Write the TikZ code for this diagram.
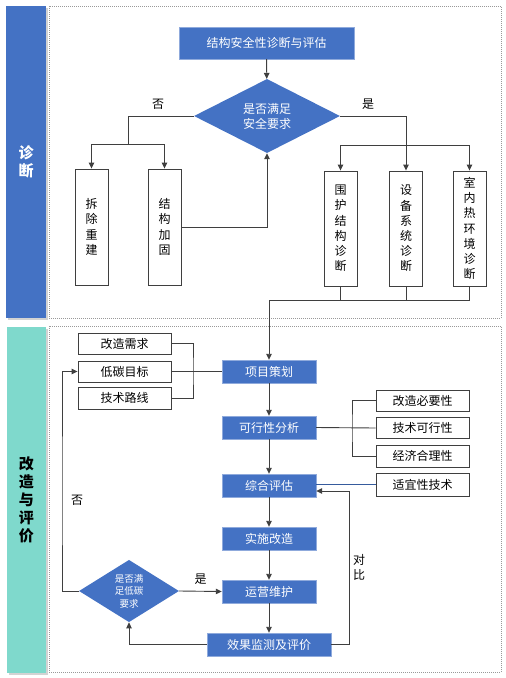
\documentclass[tikz,border=0pt]{standalone}
\usepackage{fontspec}
\setmainfont{Noto Sans CJK SC}
\usetikzlibrary{shapes.geometric,arrows.meta,shadows}
\definecolor{zdblue}{HTML}{4472C4}
\definecolor{zdedge}{HTML}{8FAADC}
\definecolor{gzteal}{HTML}{7FD9CC}
\definecolor{lnclr}{HTML}{3F3F3F}
\tikzset{
    bluebox/.style={draw=zdedge, fill=zdblue, text=white, minimum width=94pt, minimum height=23pt, inner sep=0pt, font=\fontsize{12}{14}\selectfont},
    whitebox/.style={draw=lnclr, line width=0.9pt, fill=white, minimum width=93pt, minimum height=21pt, inner sep=0pt, font=\fontsize{12}{14}\selectfont},
    tallbox/.style={draw=lnclr, line width=0.9pt, fill=white, minimum width=33pt, minimum height=116pt, inner sep=0pt, align=center, font=\fontsize{12}{15.2}\selectfont},
    bluediamond/.style={diamond, fill=zdblue, text=white, inner sep=0pt, align=center},
    band/.style={inner sep=0pt, align=center, drop shadow={opacity=0.35, shadow xshift=1.5pt, shadow yshift=-1.5pt}},
    panel/.style={draw=gray!80, dash pattern=on 1pt off 1pt, line width=0.6pt},
    lbl/.style={inner sep=0pt, align=center, font=\fontsize{12}{15}\selectfont},
    line/.style={draw=lnclr, line width=0.9pt},
    arr/.style={line, -{Triangle[length=6pt, width=5.5pt]}},
}
\begin{document}
\begin{tikzpicture}[x=1pt, y=-1pt]
    \useasboundingbox (0,0) rectangle (506,678);

    % bands and panels
    \node[band, fill=zdblue, text=white, minimum width=40pt, minimum height=312pt, font=\fontsize{15}{18}\selectfont\bfseries] (zd) at (26,162) {诊\\断};
    \node[band, fill=gzteal, text=black, minimum width=39pt, minimum height=346pt, font=\fontsize{15}{18}\selectfont\bfseries] (gz) at (26.5,500) {改\\造\\与\\评\\价};
    \draw[panel] (49,6) rectangle (501,318);
    \draw[panel] (49,326) rectangle (501,672);

    % diagnosis
    \node[bluebox, minimum width=175pt, minimum height=32pt] (jgaq) at (266.5,43) {结构安全性诊断与评估};
    \node[bluediamond, minimum width=146pt, minimum height=62pt, font=\fontsize{12}{15}\selectfont] (aqyq) at (267,116) {是否满足\\安全要求};
    \node[tallbox] (ccjz) at (91.5,227) {拆\\除\\重\\建};
    \node[tallbox] (jgjg) at (164.5,227) {结\\构\\加\\固};
    \node[tallbox, minimum height=115pt] (whjg) at (340.5,228.5) {围\\护\\结\\构\\诊\\断};
    \node[tallbox, minimum height=115pt] (sbxt) at (406,228.5) {设\\备\\系\\统\\诊\\断};
    \node[tallbox, minimum height=115pt] (snhj) at (469.5,228.5) {室\\内\\热\\环\\境\\诊\\断};
    \node[lbl] (fou1) at (158,104) {否};
    \node[lbl] (shi1) at (368,104) {是};

    \coordinate (lsplit) at (128,144);
    \coordinate (rsplit) at (340.5,145);
    \coordinate (merge) at (269,300);

    \draw[arr] (jgaq) -- (aqyq);
    \draw[line] (aqyq.west) -| (lsplit);
    \draw[arr] (lsplit) -| (ccjz.north);
    \draw[arr] (lsplit) -| (jgjg.north);
    \draw[arr] (jgjg.east) -| (aqyq.south);
    \draw[arr] (aqyq.east) -| (sbxt.north);
    \draw[arr] (rsplit) -- (whjg.north);
    \draw[arr] (rsplit) -| (snhj.north);
    \draw[line] (whjg.south) |- (merge);
    \draw[line] (sbxt.south) -- (sbxt.south |- merge);
    \draw[line] (snhj.south) |- (merge);

    % retrofit and evaluation
    \node[bluebox] (xmch) at (269,371.5) {项目策划};
    \node[bluebox] (kxfx) at (269,427.5) {可行性分析};
    \node[bluebox] (zhpg) at (269,485.5) {综合评估};
    \node[bluebox] (ssgz) at (269,538.5) {实施改造};
    \node[bluebox] (yywh) at (269,591.5) {运营维护};
    \node[bluebox, minimum width=124pt] (xgjc) at (269,644.5) {效果监测及评价};
    \node[whitebox] (gzxq) at (124.5,343.5) {改造需求};
    \node[whitebox] (dtmb) at (124.5,371.5) {低碳目标};
    \node[whitebox, minimum height=22pt] (jslx) at (124.5,398) {技术路线};
    \node[whitebox] (gzby) at (422.5,400.5) {改造必要性};
    \node[whitebox] (jskx) at (422.5,428) {技术可行性};
    \node[whitebox, minimum height=22pt] (jjhl) at (422.5,456) {经济合理性};
    \node[whitebox, minimum height=23pt] (syjs) at (422.5,484.5) {适宜性技术};
    \node[bluediamond, minimum width=100pt, minimum height=54pt, font=\fontsize{9.5}{12.5}\selectfont] (dtyq) at (129,591) {是否满\\足低碳\\要求};
    \node[lbl] (fou2) at (77,500) {否};
    \node[lbl] (duibi) at (359,567) {对\\比};

    \coordinate (lbrace) at (193,371.5);
    \coordinate (rbrace) at (352,428);
    \coordinate (dbturn) at (349,491);
    \coordinate (fouturn) at (62,500);

    \draw[arr] (merge) -- (xmch);
    \draw[line] (gzxq.east) -| (lbrace) |- (jslx.east);
    \draw[line] (dtmb.east) -- (xmch.west);
    \draw[arr] (xmch) -- (kxfx);
    \draw[line] (gzby.west) -| (rbrace) |- (jjhl.west);
    \draw[line] (kxfx.east) -- (jskx.west);
    \draw[arr] (kxfx) -- (zhpg);
    \draw[draw=zdblue!80!black, line width=0.9pt] (syjs.west) -- (syjs.west -| zhpg.east);
    \draw[arr] (zhpg) -- (ssgz);
    \draw[arr] (ssgz) -- (yywh);
    \draw[arr] (yywh) -- (xgjc);
    \draw[arr] (xgjc.east) -| (dbturn) -- (dbturn -| zhpg.east);
    \draw[arr] (xgjc.west) -| (dtyq.south);
    \draw[arr] (dtyq.east) -- node[lbl, above=6pt] {是} (yywh.west);
    \draw[arr] (dtyq.west) -| (fouturn) |- (dtmb.west);
\end{tikzpicture}
\end{document}
